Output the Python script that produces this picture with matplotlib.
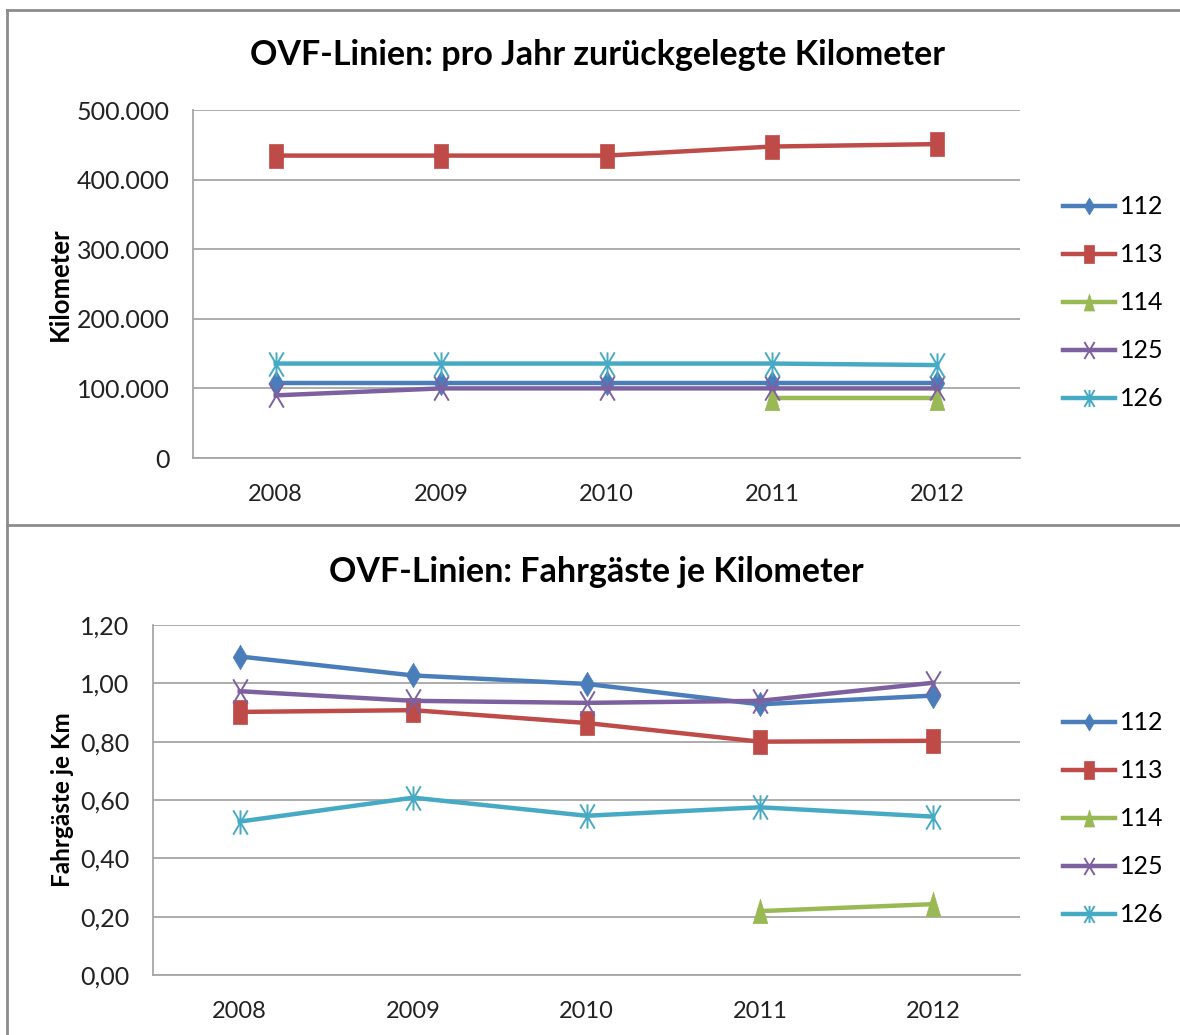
import numpy as np
import matplotlib
matplotlib.use("Agg")
import matplotlib.pyplot as plt
from matplotlib.path import Path
from matplotlib.lines import Line2D

plt.rcParams['font.family'] = ['Lato', 'DejaVu Sans']

years = ["2008", "2009", "2010", "2011", "2012"]
lines = ["112", "113", "114", "125", "126"]

# pro Jahr zurückgelegte Kilometer
km_112 = [108000, 108000, 108000, 108000, 108000]
km_113 = [434500, 434500, 434500, 447500, 451000]
km_114 = [None, None, None, 86000, 86000]
km_125 = [90000, 100000, 100000, 100000, 100000]
km_126 = [135700, 135700, 135700, 135700, 133500]

# Fahrgäste je Kilometer
fg_112 = [1.092, 1.027, 0.998, 0.928, 0.958]
fg_113 = [0.902, 0.908, 0.864, 0.800, 0.803]
fg_114 = [None, None, None, 0.219, 0.243]
fg_125 = [0.973, 0.940, 0.933, 0.940, 1.002]
fg_126 = [0.526, 0.608, 0.546, 0.575, 0.543]

colors = ["#4a7ebb", "#be4b48", "#98b954", "#7d60a0", "#46aac5"]

# markers are drawn taller than wide, as in the original
W = 0.3
diamond = Path([(0, 0.5), (W, 0), (0, -0.5), (-W, 0), (0, 0.5)])
square = Path([(-W, -0.5), (W, -0.5), (W, 0.5), (-W, 0.5), (-W, -0.5)])
triangle = Path([(0, 0.5), (W, -0.5), (-W, -0.5), (0, 0.5)])
xmark = Path([(-W, -0.5), (W, 0.5), (-W, 0.5), (W, -0.5)],
             [Path.MOVETO, Path.LINETO, Path.MOVETO, Path.LINETO])
star = Path([(-W, -0.5), (W, 0.5), (-W, 0.5), (W, -0.5), (0, 0.5), (0, -0.5)],
            [Path.MOVETO, Path.LINETO, Path.MOVETO, Path.LINETO, Path.MOVETO, Path.LINETO])
markers = [diamond, square, triangle, xmark, star]
filled = [True, True, True, False, False]

grey = "#a6a6a6"


def to_arr(v):
    return np.array([np.nan if x is None else x for x in v], dtype=float)


def draw(ax, series, ymax, step, fmt):
    x = np.arange(len(years))
    for s, c, m, f, lab in zip(series, colors, markers, filled, lines):
        if f:
            ax.plot(x, to_arr(s), color=c, lw=3.2, marker=m, ms=17.5,
                    mfc=c, mec=c, mew=0.5, label=lab)
        else:
            ax.plot(x, to_arr(s), color=c, lw=3.2, marker=m, ms=17.5,
                    mfc="none", mec=c, mew=1.4, label=lab)
    ax.set_xlim(-0.5, len(years) - 0.5)
    ax.set_ylim(0, ymax)
    ticks = np.arange(0, ymax + step / 2, step)
    ax.set_yticks(ticks)
    ax.set_yticklabels([fmt(v) for v in ticks])
    ax.set_xticks(x)
    ax.set_xticklabels(years)
    ax.grid(axis="y", color=grey, lw=1.3)
    ax.set_axisbelow(True)
    for sp in ["top", "right"]:
        ax.spines[sp].set_visible(False)
    for sp in ["left", "bottom"]:
        ax.spines[sp].set_color(grey)
        ax.spines[sp].set_linewidth(1.3)
    ax.tick_params(length=0, colors="#222222")
    ax.tick_params(axis="y", pad=17, labelsize=18)
    ax.tick_params(axis="x", pad=19, labelsize=17)


fig = plt.figure(figsize=(11.8, 10.35), dpi=100)
W_, H_ = 1180, 1035

ax1 = fig.add_axes([193 / W_, 1 - 458 / H_, (1020 - 193) / W_, (458 - 110) / H_])
draw(ax1, [km_112, km_113, km_114, km_125, km_126], 500000, 100000,
     lambda v: "0" if v == 0 else f"{int(v):,}".replace(",", "."))
ax1.set_ylabel("Kilometer", fontsize=18.5, fontweight="bold")
ax1.yaxis.set_label_coords(-121 / (1020 - 193), 0.5)

ax2 = fig.add_axes([153 / W_, 1 - 975 / H_, (1020 - 153) / W_, (975 - 625) / H_])
draw(ax2, [fg_112, fg_113, fg_114, fg_125, fg_126], 1.2, 0.2,
     lambda v: f"{v:.2f}".replace(".", ","))
ax2.set_ylabel("Fahrgäste je Km", fontsize=17.5, fontweight="bold")
ax2.yaxis.set_label_coords(-79 / (1020 - 153), 0.5)

fig.text(597 / W_, 1 - 55 / H_, "OVF-Linien: pro Jahr zurückgelegte Kilometer",
         ha="center", va="center", fontsize=24.5, fontweight="bold")
fig.text(596 / W_, 1 - 572 / H_, "OVF-Linien: Fahrgäste je Kilometer",
         ha="center", va="center", fontsize=24.5, fontweight="bold")

for ax, ytop in [(ax1, 173), (ax2, 689)]:
    h, l = ax.get_legend_handles_labels()
    fig.legend(h, l, loc="upper left", bbox_to_anchor=(1040 / W_, 1 - ytop / H_),
               frameon=False, fontsize=18, handlelength=2.1, handletextpad=0.2,
               labelspacing=1.0, markerscale=0.7)

# outer frame and divider
for xs, ys in [([7, W_], [10, 10]), ([7, 7], [10, H_]), ([7, W_], [525, 525])]:
    fig.add_artist(Line2D([x / W_ for x in xs], [1 - y / H_ for y in ys],
                          color="#8c8c8c", lw=2, transform=fig.transFigure))

fig.savefig("out.png", dpi=100)
